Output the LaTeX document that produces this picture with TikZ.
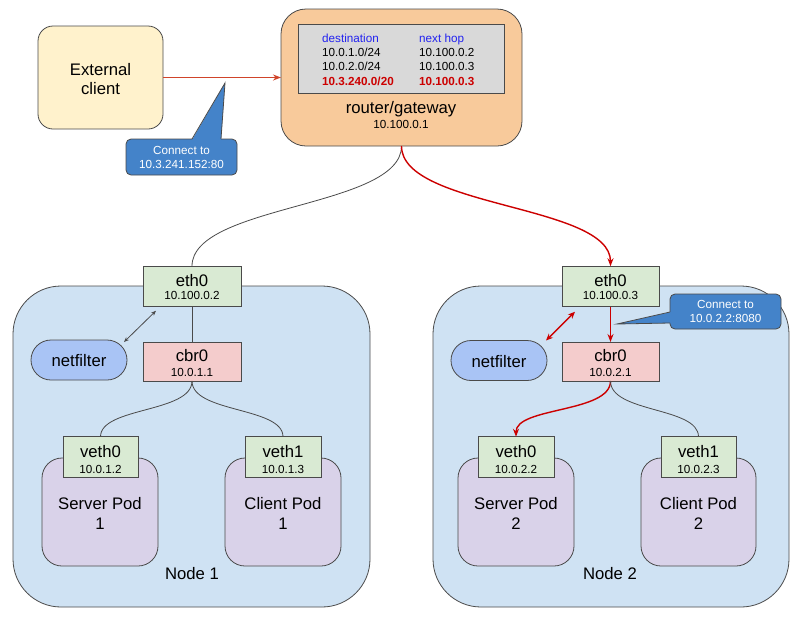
\documentclass[tikz,border=0pt]{standalone}
\usepackage{fontspec}
\setmainfont{Liberation Sans}
\usetikzlibrary{arrows.meta,calc}
\definecolor{clientfill}{HTML}{FFF2CC}
\definecolor{routerfill}{HTML}{F8CA9B}
\definecolor{tablefill}{HTML}{D9D9D9}
\definecolor{hdrblue}{HTML}{2222F0}
\definecolor{redtxt}{HTML}{CC0000}
\definecolor{extarrow}{HTML}{D0442A}
\definecolor{redarrow}{HTML}{CC0000}
\definecolor{calloutblue}{HTML}{4483C9}
\definecolor{nodefill}{HTML}{CFE2F3}
\definecolor{nffill}{HTML}{A9C4F5}
\definecolor{nicfill}{HTML}{D9EAD3}
\definecolor{brfill}{HTML}{F4CCCC}
\definecolor{podfill}{HTML}{D9D2E9}
\definecolor{edge}{HTML}{4A4A4A}
\newcommand{\setfs}[2]{\fontsize{#1}{#2}\selectfont}
\begin{document}
\begin{tikzpicture}[x=1pt,y=-1pt,
  shapebox/.style={draw=edge, line width=0.8pt, inner sep=0pt, outer sep=0pt},
  bigtxt/.style={font=\setfs{16.7}{20}, inner sep=0pt, anchor=base},
  smalltxt/.style={font=\setfs{11.7}{14}, inner sep=0pt, anchor=base},
  tbltxt/.style={font=\setfs{11.7}{14}, inner sep=0pt, anchor=base west},
  nicbox/.style={shapebox, fill=nicfill, minimum width=#1, minimum height=40.5pt},
  brbox/.style={shapebox, fill=brfill, minimum width=98pt, minimum height=39pt},
  podbox/.style={shapebox, fill=podfill, rounded corners=20pt, minimum width=116pt, minimum height=108pt},
  kbox/.style={shapebox, fill=nodefill, rounded corners=48pt, minimum width=#1, minimum height=321pt},
  nfbox/.style={shapebox, fill=nffill, rounded corners=20pt, minimum width=96pt, minimum height=40pt},
  callout/.style={shapebox, fill=calloutblue, rounded corners=5pt, text=white, align=center,
    font=\setfs{11.7}{14}, minimum width=111pt, minimum height=36pt},
  conn/.style={draw=edge, line width=0.8pt},
  redconn/.style={draw=redarrow, line width=1.4pt},
  redtip/.style={-{Stealth[length=8pt,width=6pt]}},
]
\useasboundingbox (0,0) rectangle (800,625);

% ---- Kubernetes nodes
\node[kbox=357pt] (k1) at (191.5,446.5) {};
\node[kbox=356pt] (k2) at (611,446.5) {};
\node[bigtxt] (k1t) at (192,579) {Node 1};
\node[bigtxt] (k2t) at (610,579) {Node 2};

% ---- external client
\node[shapebox, fill=clientfill, rounded corners=15pt, minimum width=125pt, minimum height=103pt] (ext) at (100.5,77.5) {};
\node[bigtxt] (extt1) at (100.5,75) {External};
\node[bigtxt] (extt2) at (100.5,94) {client};

% ---- router
\node[shapebox, fill=routerfill, rounded corners=25pt, minimum width=241pt, minimum height=137pt] (router) at (401.5,77.5) {};
\node[draw=edge, line width=0.8pt, fill=tablefill, inner sep=0pt, minimum width=206pt, minimum height=69pt] (tbl) at (401,58.5) {};
\node[tbltxt, text=hdrblue] (h1) at (322,42) {destination};
\node[tbltxt, text=hdrblue] (h2) at (419,42) {next hop};
\node[tbltxt] (r1a) at (322,56.3) {10.0.1.0/24};
\node[tbltxt] (r1b) at (419,56.3) {10.100.0.2};
\node[tbltxt] (r2a) at (322,70.6) {10.0.2.0/24};
\node[tbltxt] (r2b) at (419,70.6) {10.100.0.3};
\node[tbltxt, text=redtxt, font=\setfs{11.7}{14}\bfseries] (r3a) at (322,85) {10.3.240.0/20};
\node[tbltxt, text=redtxt, font=\setfs{11.7}{14}\bfseries] (r3b) at (419,85) {10.100.0.3};
\node[bigtxt] (rt) at (401,113) {router/gateway};
\node[smalltxt] (rip) at (401,128) {10.100.0.1};

% ---- callout 1
\coordinate (tip1) at (225,83);
\node[callout] (call1) at (181.5,157) {Connect to\\10.3.241.152:80};
\fill[calloutblue] ([xshift=66pt,yshift=-1pt]call1.north west) -- (tip1) -- ([xshift=95pt,yshift=-1pt]call1.north west) -- cycle;
\draw[conn] ([xshift=66pt]call1.north west) -- (tip1) -- ([xshift=95pt]call1.north west);

% ---- Node 1 contents
\node[nicbox=98pt] (e1) at (192,286.5) {};
\node[bigtxt] (e1t) at (192,286) {eth0};
\node[smalltxt] (e1ip) at (192,299.5) {10.100.0.2};
\node[brbox] (c1) at (192,361.5) {};
\node[bigtxt] (c1t) at (192,361) {cbr0};
\node[smalltxt] (c1ip) at (192,376) {10.0.1.1};
\node[nfbox] (nf1) at (79,360) {};
\node[bigtxt] (nf1t) at (79,366.5) {netfilter};
\node[podbox] (sp1) at (100,512) {};
\node[podbox] (cp1) at (283,512) {};
\node[bigtxt] (sp1t) at (100,509) {Server Pod};
\node[bigtxt] (sp1n) at (100,529) {1};
\node[bigtxt] (cp1t) at (283,509) {Client Pod};
\node[bigtxt] (cp1n) at (283,529) {1};
\node[nicbox=75pt] (v01) at (100.5,457) {};
\node[bigtxt] (v01t) at (100.5,457) {veth0};
\node[smalltxt] (v01ip) at (100.5,473) {10.0.1.2};
\node[nicbox=76pt] (v11) at (283,457) {};
\node[bigtxt] (v11t) at (283,457) {veth1};
\node[smalltxt] (v11ip) at (283,473) {10.0.1.3};

% ---- Node 2 contents
\node[nicbox=97pt] (e2) at (610.5,286.5) {};
\node[bigtxt] (e2t) at (610.5,286) {eth0};
\node[smalltxt] (e2ip) at (610.5,299.5) {10.100.0.3};
\node[brbox, minimum width=97pt] (c2) at (610.5,361.5) {};
\node[bigtxt] (c2t) at (610.5,361) {cbr0};
\node[smalltxt] (c2ip) at (610.5,376) {10.0.2.1};
\node[nfbox] (nf2) at (499,360.5) {};
\node[bigtxt] (nf2t) at (499,367) {netfilter};
\node[podbox] (sp2) at (516,512) {};
\node[podbox, minimum width=115pt] (cp2) at (698.5,512) {};
\node[bigtxt] (sp2t) at (516,509) {Server Pod};
\node[bigtxt] (sp2n) at (516,529) {2};
\node[bigtxt] (cp2t) at (698.5,509) {Client Pod};
\node[bigtxt] (cp2n) at (698.5,529) {2};
\node[nicbox=76pt] (v02) at (516,457) {};
\node[bigtxt] (v02t) at (516,457) {veth0};
\node[smalltxt] (v02ip) at (516,473) {10.0.2.2};
\node[nicbox=75pt] (v12) at (698.5,457) {};
\node[bigtxt] (v12t) at (698.5,457) {veth1};
\node[smalltxt] (v12ip) at (698.5,473) {10.0.2.3};

% ---- callout 2
\coordinate (tip2) at (617,324);
\node[callout, minimum height=35pt] (call2) at (725.5,311.5) {Connect to\\10.0.2.2:8080};
\fill[calloutblue] ([xshift=1pt,yshift=-18pt]call2.north west) -- (tip2) -- ([xshift=1pt,yshift=-29pt]call2.north west) -- cycle;
\draw[conn] ([yshift=-18pt]call2.north west) -- (tip2) -- ([yshift=-29pt]call2.north west);

% ---- connectors
\draw[draw=extarrow, line width=1.5pt, -{Stealth[length=8pt,width=6pt]}] (ext.east) -- (router.west);
\draw[conn] (router.south) .. controls +(0,62) and +(0,-62) .. (e1.north);
\draw[redconn, redtip] (router.south) .. controls +(0,62) and +(0,-62) .. (e2.north);
\draw[conn] (e1.south) -- (c1.north);
\draw[conn, {Stealth[length=5pt,width=4pt]}-{Stealth[length=5pt,width=4pt]}] ([xshift=13pt,yshift=-4pt]e1.south west) -- ([xshift=-3pt,yshift=-2pt]nf1.north east);
\draw[conn] (c1.south) .. controls +(0,32) and +(0,-30) .. (v01.north);
\draw[conn] (c1.south) .. controls +(0,32) and +(0,-30) .. (v11.north);
\draw[redconn, redtip] (e2.south) -- (c2.north);
\draw[redconn, {Stealth[length=7pt,width=6pt]}-{Stealth[length=7pt,width=6pt]}] ([xshift=13pt,yshift=-5pt]e2.south west) -- ([xshift=-1pt,yshift=0pt]nf2.north east);
\draw[redconn, redtip] (c2.south) .. controls +(0,32) and +(0,-30) .. (v02.north);
\draw[conn] (c2.south) .. controls +(0,32) and +(0,-30) .. (v12.north);
\end{tikzpicture}
\end{document}
